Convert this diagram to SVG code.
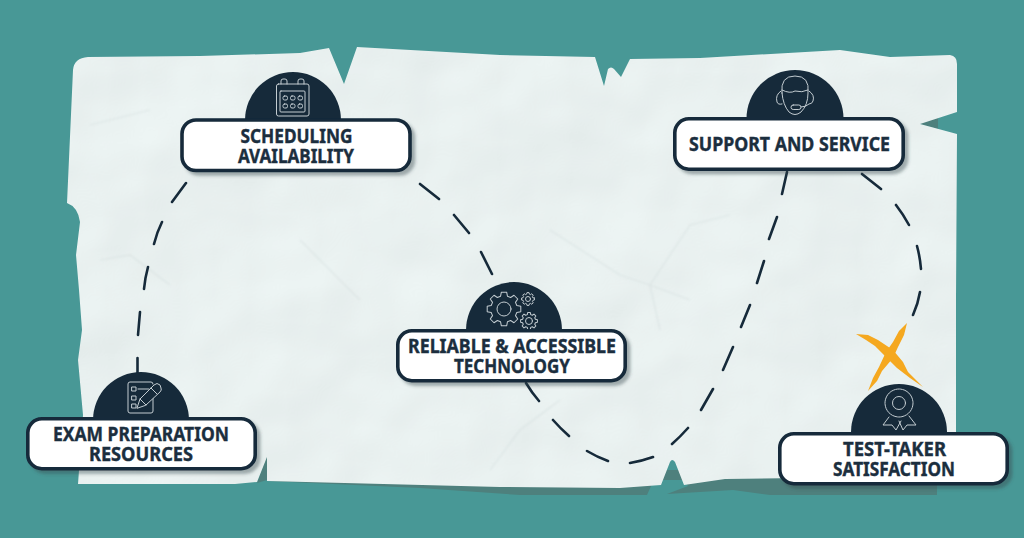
<svg xmlns="http://www.w3.org/2000/svg" width="1024" height="538" viewBox="0 0 1024 538">
<style>
.pill{fill:#fff;stroke:#162a3a;stroke-width:3.6}
.dome{fill:#162a3a}
.lab{font-family:"Noto Sans","Open Sans","Liberation Sans",sans-serif;font-weight:700;font-size:19.5px;fill:#1b2e3e;stroke:#1b2e3e;stroke-width:.4;text-anchor:middle}
.ic{fill:none;stroke:#c3ccd1;stroke-width:1;stroke-linejoin:round;stroke-linecap:round}
.sh{fill:#4e807d}
.crease{fill:none;stroke:#cfdada;stroke-width:1.2;opacity:.55}
</style>
<defs>
<filter id="drop" x="-10%" y="-20%" width="125%" height="150%"><feDropShadow dx="3.5" dy="3.5" stdDeviation="1.6" flood-color="#34474f" flood-opacity=".42"/></filter>
<filter id="soft" x="-5%" y="-5%" width="110%" height="110%"><feGaussianBlur stdDeviation=".8"/></filter>
<filter id="crumple" x="0" y="0" width="1" height="1"><feTurbulence type="fractalNoise" baseFrequency="0.007" numOctaves="3" seed="23"/><feDiffuseLighting surfaceScale="5" diffuseConstant="1.05" lighting-color="#edf5f4"><feDistantLight azimuth="235" elevation="66"/></feDiffuseLighting></filter>
<clipPath id="paperclip"><path id="paperedge" d="M73,70Q74,58 88,57L200,56L300,53L329,48L344,84L357,47L500,55L595,57L604,86L608,69Q611,66 614,69L621,77L630,59L700,58L840,50L890,57L950,55Q957,56 957,64L957,112L920,124L957,134L956,300L956,470L800,478L725,479L684,485L675,462Q672,458 670,462L661,485L620,488L500,487L267,481L267,457L257,482L235,484L78,484L83,415L78,360L82,330L79,290L76,255L80,222Q78,207 67,203Z"/></clipPath>
<path id="g8" d="M9.88,-1.56L9.88,1.56L7.53,2.02L6.75,3.9L8.09,5.88L5.88,8.09L3.9,6.75L2.02,7.53L1.56,9.88L-1.56,9.88L-2.02,7.53L-3.9,6.75L-5.88,8.09L-8.09,5.88L-6.75,3.9L-7.53,2.02L-9.88,1.56L-9.88,-1.56L-7.53,-2.02L-6.75,-3.9L-8.09,-5.88L-5.88,-8.09L-3.9,-6.75L-2.02,-7.53L-1.56,-9.88L1.56,-9.88L2.02,-7.53L3.9,-6.75L5.88,-8.09L8.09,-5.88L6.75,-3.9L7.53,-2.02Z"/>
</defs>
<rect width="1024" height="538" fill="#489896"/>
<g id="paper-shadow">
<path class="sh" d="M233,470L241,470L238,482L233,482Z"/>
<path class="sh" d="M257,483L267,455L267,481L420,488L520,495L647,495L652,484L661,480L684,480L688,486L667,494L733,490L770,495L937,495L937,470L700,470L300,470Z"/>
<path class="sh" d="M920,124L938,116L938,129Z"/>
</g>
<g clip-path="url(#paperclip)"><rect x="60" y="40" width="905" height="455" filter="url(#crumple)"/>
<g filter="url(#soft)"><path class="crease" d="M550,230L620,275L650,285L690,300M650,285L690,225L730,215M650,285L660,330M300,240L360,300M100,260L130,255L170,285M90,125L150,110M490,470L520,430L560,400"/></g></g>
<g id="connectors" fill="none" stroke="#162a3a" stroke-width="2.6" stroke-linecap="round">
<path d="M186,183L172,202M162,222Q157,232 154,244M148,267Q145,278 144,289M140,312L138,335M137.500,358V376"/>
<path d="M420,184L439,199M454,215L469,233M481,252L492,274"/>
<path d="M526,383Q532,393 539,401M553,420Q560,428 569,436M587,451Q597,457 608,461M630,463Q642,461 653,457M672,444Q680,437 688,428M701,410L713,389M723,370L733,347M741,327L750,305M757,283L764,261M769,239L777,217M782,194L787,172"/>
<path d="M862,174L881,189M896,205Q903,214 909,225M917,246Q920,257 921,269M920,292Q918,304 913,315"/>
</g>
<g id="logo-x" fill="#f5a81f">
<path d="M856,334L868,335L878,340L893,350L903,362L908,372L923,387L910,378L897,368L887,358L875,346L866,340Z"/>
<path d="M907,323L904,335L898,347L893,358L882,371L877,381L868,391L873,378L879,367L886,352L893,342L899,331Z"/>
</g>
<g id="node-exam">
<circle class="dome" cx="141" cy="420" r="48"/>
<g class="ic"><path d="M153,389V411Q153,413 151,413H130Q128,413 128,411V384Q128,382 130,382H151Q153,382 153,384"/><rect x="132" y="387" width="4" height="4"/><rect x="132" y="396" width="4" height="4"/><rect x="132" y="404" width="4" height="4"/><path d="M138,389H149"/><path fill="#162a3a" d="M137,408L140,399L154,385Q157,382 160,385L161,388Q162,390 160,392L146,405Z"/><path d="M140,399L146,405M151,388L157,394"/></g>
<rect class="pill" filter="url(#drop)" x="27.800" y="418.800" width="227.400" height="49.900" rx="14"/>
<text class="lab"><tspan x="141" y="441" textLength="176" lengthAdjust="spacingAndGlyphs">EXAM PREPARATION</tspan><tspan x="141" y="461" textLength="104" lengthAdjust="spacingAndGlyphs">RESOURCES</tspan></text>
</g>
<g id="node-scheduling">
<circle class="dome" cx="293" cy="120" r="48"/>
<g class="ic"><path d="M281,84V81Q281,79 283,79H285Q287,79 287,81V84M298,84V81Q298,79 300,79H302Q304,79 304,81V84"/><rect x="276.500" y="84" width="32.500" height="32" rx="2"/><rect x="280" y="91" width="25" height="21" rx="1"/><rect x="283" y="96" width="4.500" height="4" rx="1.500"/><rect x="290.500" y="96" width="4.500" height="4" rx="1.500"/><rect x="298" y="96" width="4.500" height="4" rx="1.500"/><rect x="283" y="104" width="4.500" height="4" rx="1.500"/><rect x="290.500" y="104" width="4.500" height="4" rx="1.500"/><rect x="298" y="104" width="4.500" height="4" rx="1.500"/></g>
<rect class="pill" filter="url(#drop)" x="182" y="120" width="228" height="50.500" rx="14"/>
<text class="lab"><tspan x="296.500" y="143" textLength="112" lengthAdjust="spacingAndGlyphs">SCHEDULING</tspan><tspan x="296" y="163" textLength="116" lengthAdjust="spacingAndGlyphs">AVAILABILITY</tspan></text>
</g>
<g id="node-technology">
<circle class="dome" cx="514" cy="330" r="48"/>
<g class="ic"><use href="#g8" transform="translate(504,309) scale(1.7)" stroke-width=".6"/><circle cx="504" cy="309" r="7"/><use href="#g8" transform="translate(528,299) scale(.65)" stroke-width="1.500"/><circle cx="528" cy="299" r="2.500"/><use href="#g8" transform="translate(529,321) scale(.85)" stroke-width="1.200"/><circle cx="529" cy="321" r="3.500"/></g>
<rect class="pill" filter="url(#drop)" x="397.800" y="330.800" width="227.400" height="49.900" rx="14"/>
<text class="lab"><tspan x="512" y="353" textLength="208" lengthAdjust="spacingAndGlyphs">RELIABLE &amp; ACCESSIBLE</tspan><tspan x="512" y="373" textLength="116" lengthAdjust="spacingAndGlyphs">TECHNOLOGY</tspan></text>
</g>
<g id="node-support">
<circle class="dome" cx="795" cy="118.500" r="48.500"/>
<g class="ic"><path d="M782,93Q780,76 795,76Q810,76 808,93Q808,105 801,112Q795,117 789,112Q783,105 782,93Z"/><path d="M782,90Q790,94 795,91Q802,93 808,90"/><path d="M781,91Q775,95 777,102Q778,105 782,104M809,91Q815,95 813,101Q812,104 809,104Q806,107 801,107"/><rect x="791" y="105" width="10" height="4.500" rx="2.200"/></g>
<rect class="pill" filter="url(#drop)" x="674.800" y="118.800" width="228.400" height="50.400" rx="14"/>
<text class="lab" x="789.500" y="151" textLength="201" lengthAdjust="spacingAndGlyphs">SUPPORT AND SERVICE</text>
</g>
<g id="node-satisfaction">
<circle class="dome" cx="899" cy="432" r="48"/>
<g class="ic"><circle cx="899" cy="403" r="14" stroke-dasharray="4 .8"/><circle cx="899" cy="403" r="6.500"/><path d="M889,417L883,425L892,425L896,430L901,421M909,416L916,425L907,425L903,430L899,421"/></g>
<rect class="pill" filter="url(#drop)" x="779.800" y="433.800" width="227.400" height="49.900" rx="14"/>
<text class="lab"><tspan x="894.500" y="456" textLength="103" lengthAdjust="spacingAndGlyphs">TEST-TAKER</tspan><tspan x="894" y="476" textLength="122" lengthAdjust="spacingAndGlyphs">SATISFACTION</tspan></text>
</g>
</svg>
